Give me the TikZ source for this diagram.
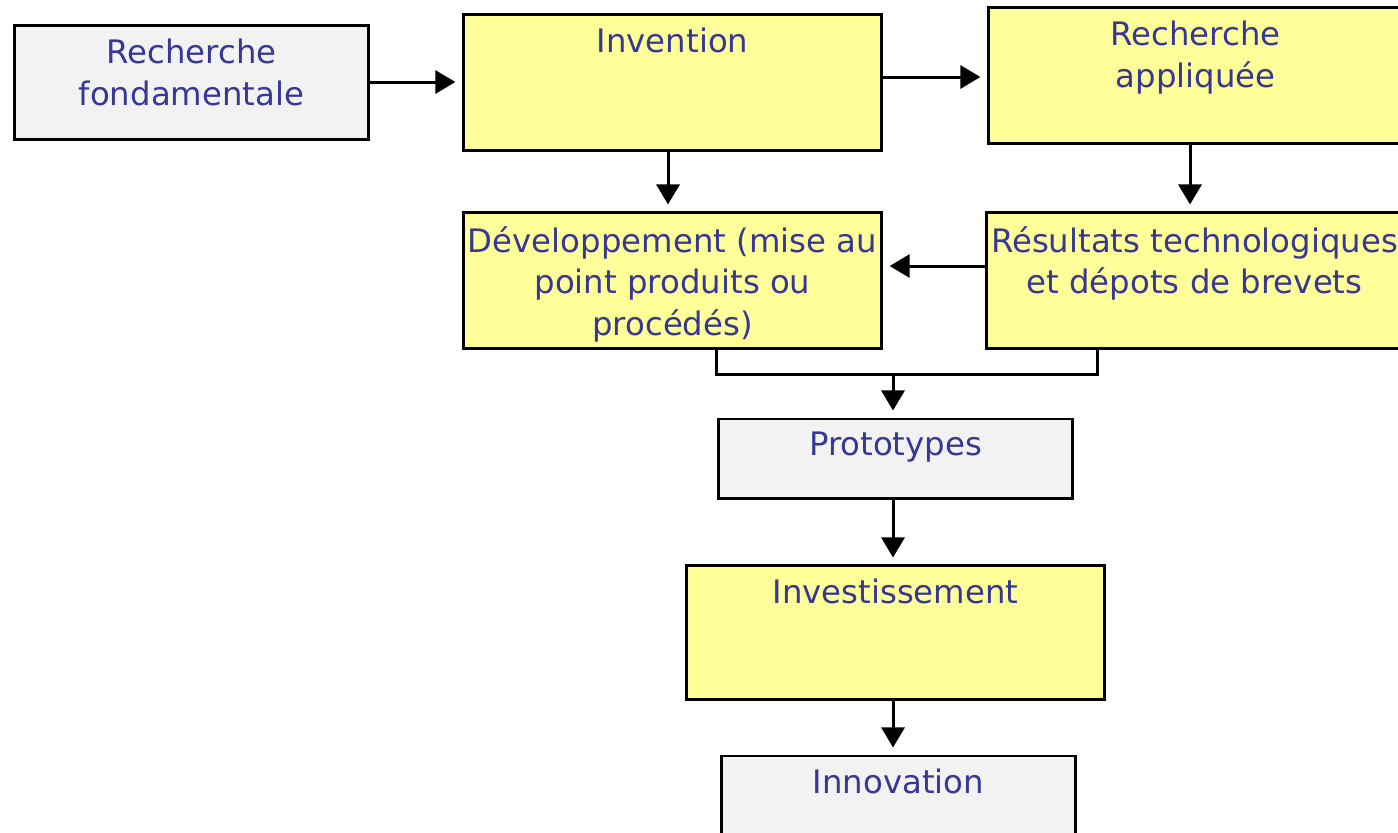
\documentclass[tikz,border=0pt]{standalone}
\usepackage{fontspec}
\setmainfont{DejaVu Sans}
\usepackage{tikz}
\usetikzlibrary{arrows.meta, positioning}

\definecolor{boxyellow}{HTML}{FFFF99}
\definecolor{boxgrey}{HTML}{F2F2F2}
\definecolor{txtblue}{RGB}{55,55,150}

\begin{document}
\begin{tikzpicture}[
    x=0.01cm, y=-0.01cm,
    ybox/.style={draw, line width=0.85pt, fill=boxyellow, inner sep=0pt},
    gbox/.style={draw, line width=0.85pt, fill=boxgrey, inner sep=0pt},
    boxtxt/.style={font=\fontsize{9.2}{11.9}\selectfont, text=txtblue, align=center, inner sep=0pt},
    toplabel/.style={label={[boxtxt, anchor=north, yshift=-0.14cm]north:{#1}}},
    flowarrow/.style={-{Triangle[length=0.2cm, width=0.23cm]}, line width=0.85pt, shorten >=0.07cm}
]
    \useasboundingbox (0,0) rectangle (1398,832);

    % Top row
    \node[gbox, minimum width=3.53cm, minimum height=1.13cm, toplabel={Recherche\\fondamentale}] (rf) at (191.5,82.5) {};
    \node[ybox, minimum width=4.17cm, minimum height=1.35cm, toplabel={Invention}] (inv) at (672.5,82.5) {};
    \node[ybox, minimum width=4.13cm, minimum height=1.35cm, toplabel={Recherche\\appliquée}] (ra) at (1195.5,75.5) {};

    % Second row
    \node[ybox, minimum width=4.17cm, minimum height=1.35cm, toplabel={Développement (mise au\\point produits ou\\procédés)}] (dev) at (672.5,280.5) {};
    \node[ybox, minimum width=4.15cm, minimum height=1.35cm, toplabel={Résultats technologiques\\et dépots de brevets}] (res) at (1194.5,280.5) {};

    % Column below
    \node[gbox, minimum width=3.53cm, minimum height=0.79cm, toplabel={Prototypes}] (proto) at (895.5,458.5) {};
    \node[ybox, minimum width=4.17cm, minimum height=1.33cm, toplabel={Investissement}] (inve) at (895.5,632.5) {};
    \node[gbox, minimum width=3.53cm, minimum height=1.14cm, toplabel={Innovation}] (innov) at (898.5,813) {};

    % Arrows
    \draw[flowarrow] (rf.east |- 0,82) -- (inv.west |- 0,82);
    \draw[flowarrow] (inv.east |- 0,77) -- (ra.west |- 0,77);
    \draw[flowarrow] (inv.south -| 668,0) -- (dev.north -| 668,0);
    \draw[flowarrow] (ra.south -| 1190,0) -- (res.north -| 1190,0);
    \draw[flowarrow] (res.west |- 0,266) -- (dev.east |- 0,266);

    % Merge into prototypes
    \coordinate (merge) at (893,374);
    \draw[line width=0.85pt] (dev.south -| 716,0) |- (merge) -| (res.south -| 1097,0);
    \draw[flowarrow] (merge) -- (proto.north -| merge);
    \draw[flowarrow] (proto.south -| 893,0) -- (inve.north -| 893,0);
    \draw[flowarrow] (inve.south -| 893,0) -- (innov.north -| 893,0);
\end{tikzpicture}
\end{document}
